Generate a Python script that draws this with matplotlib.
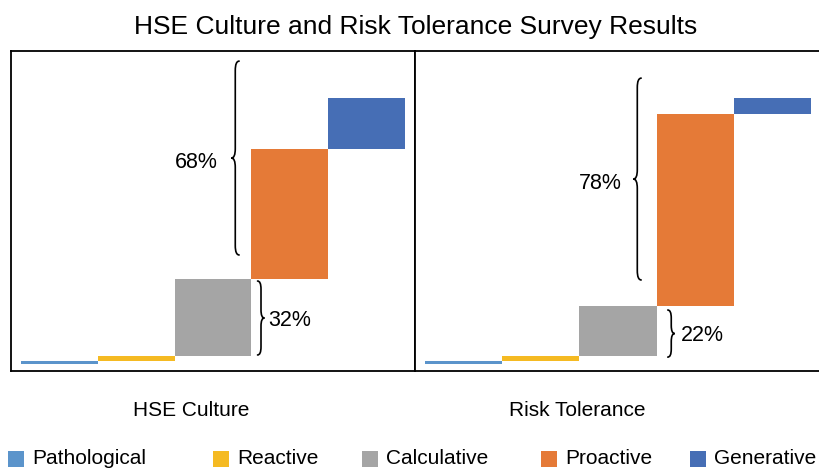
import matplotlib
matplotlib.use("Agg")
import matplotlib.pyplot as plt
import numpy as np
from matplotlib.path import Path
from matplotlib.patches import PathPatch, Rectangle

plt.rcParams['font.family'] = ['Liberation Sans', 'DejaVu Sans']

# Survey data (% of responses per maturity level)
levels = ["Pathological", "Reactive", "Calculative", "Proactive", "Generative"]
colors = ["#5B94CB", "#F5BA22", "#A5A5A5", "#E57A37", "#466EB5"]
hse_culture = [1, 2, 29, 49, 19]
risk_tolerance = [1, 2, 19, 72, 6]
panel_titles = ["HSE Culture", "Risk Tolerance"]
lower_labels = ["32%", "22%"]
upper_labels = ["68%", "78%"]

W, H = 819, 471
fig = plt.figure(figsize=(W / 100, H / 100), dpi=100)


def px_axes(x0, y0, x1, y1):
    return fig.add_axes([x0 / W, 1 - y1 / H, (x1 - x0) / W, (y1 - y0) / H])


def brace(ax, xs, y_bot, y_top, w, r, tip):
    """Vertical curly brace with its spine at xs; tip = -1 points left, +1 right."""
    ym = (y_bot + y_top) / 2
    e = -tip * w   # ends curl away from the tip
    t = tip * w
    verts = [
        (xs + e, y_top), (xs, y_top), (xs, y_top - r),
        (xs, ym + r),
        (xs, ym), (xs + t, ym),
        (xs, ym), (xs, ym - r),
        (xs, y_bot + r),
        (xs, y_bot), (xs + e, y_bot),
    ]
    codes = [Path.MOVETO, Path.CURVE3, Path.CURVE3,
             Path.LINETO,
             Path.CURVE3, Path.CURVE3,
             Path.CURVE3, Path.CURVE3,
             Path.LINETO,
             Path.CURVE3, Path.CURVE3]
    ax.add_patch(PathPatch(Path(verts, codes), fill=False, lw=1.2,
                           edgecolor="black", capstyle="round"))


axes = [px_axes(11, 51, 415, 371), px_axes(415, 51, 821, 371)]
datasets = [hse_culture, risk_tolerance]

# brace layout: (spine x, bottom, top) in data units for lower / upper brace
lower_braces = [(2.625, 3.4, 31.2), (2.69, 2.6, 20.3)]
upper_braces = [(2.29, 41.0, 113.9), (2.25, 31.6, 107.5)]
upper_label_pos = [(1.78, 75.6), (1.77, 67.7)]
lower_label_pos = [(2.72, 16.5), (2.82, 10.9)]

for ax, vals, lb, ub, ulp, llp, ltxt, utxt in zip(
        axes, datasets, lower_braces, upper_braces,
        upper_label_pos, lower_label_pos, lower_labels, upper_labels):
    vals = np.array(vals, dtype=float)
    tops = np.cumsum(vals)
    bottoms = tops - vals
    x = np.arange(len(vals))
    ax.bar(x, vals, bottom=bottoms, width=1.0, color=colors, linewidth=0)
    ax.set_xlim(-0.63, 4.63)
    ax.set_ylim(-2.63, 117.7)
    ax.set_xticks([])
    ax.set_yticks([])
    for s in ax.spines.values():
        s.set_linewidth(1.3)
        s.set_color("black")

    brace(ax, lb[0], lb[1], lb[2], 0.045, 3.0, +1)
    brace(ax, ub[0], ub[1], ub[2], 0.05, 3.5, -1)
    ax.text(ulp[0], ulp[1], utxt, ha="center", va="center", fontsize=15.5)
    ax.text(llp[0], llp[1], ltxt, ha="left", va="center", fontsize=15.5)

fig.text(415.5 / W, 1 - 27 / H, "HSE Culture and Risk Tolerance Survey Results",
         ha="center", va="center", fontsize=19)

for cx, title in zip([191, 577], panel_titles):
    fig.text(cx / W, 1 - 410 / H, title, ha="center", va="center", fontsize=15)

# legend row
legend_x = [8, 213, 362, 541, 690]
sq = 15.5
for lx, name, c in zip(legend_x, levels, colors):
    fig.patches.append(Rectangle((lx / W, 1 - (459 + sq / 2) / H), sq / W, sq / H,
                                 transform=fig.transFigure, color=c, linewidth=0))
    fig.text((lx + sq + 8.5) / W, 1 - 459 / H, name, ha="left", va="center",
             fontsize=15)

fig.savefig("out.png", dpi=100)
